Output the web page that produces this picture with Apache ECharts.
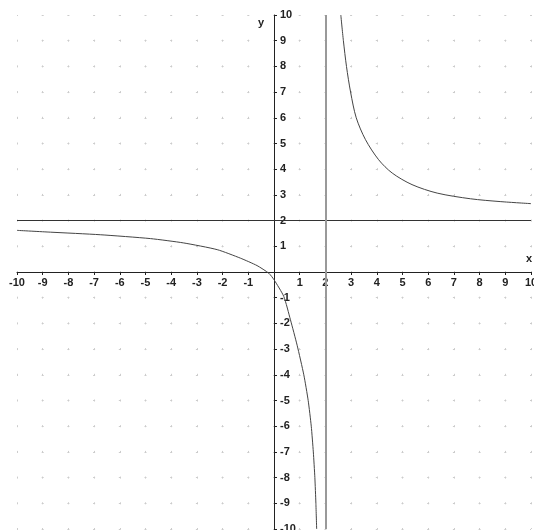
<!DOCTYPE html>
<html>
<head>
<meta charset="utf-8">
<script src="https://cdn.jsdelivr.net/npm/echarts@6/dist/echarts.min.js"></script>
<style>
html,body{margin:0;padding:0;background:#fff;}
#chart{width:534px;height:530px;}
</style>
</head>
<body>
<div id="chart"></div>
<script>
// Values
var axisMin = -10;
var axisMax = 10;
var asymptoteX = 2;
var asymptoteY = 2;
var leftX = [-10, -8.7, -6.76, -4.81, -3.51, -2.21, -1.31, -0.66, -0.2, 0, 0.38, 0.64, 0.9, 1.16, 1.33, 1.45, 1.53, 1.59, 1.63, 1.66];
var leftY = [1.62, 1.55, 1.45, 1.30, 1.13, 0.87, 0.54, 0.25, -0.05, -0.3, -0.95, -1.86, -2.85, -4.0, -5, -6, -7, -8, -9, -10];
var rightX = [2.6, 2.7, 2.82, 2.98, 3.2, 3.56, 4.07, 4.6, 5.37, 6.35, 7.64, 8.8, 10];
var rightY = [10, 9, 8, 7, 6, 5.15, 4.37, 3.85, 3.40, 3.07, 2.85, 2.74, 2.66];

function pairs(xs, ys) { return xs.map(function (x, i) { return [x, ys[i]]; }); }
function fmt(v) { return v === 0 ? '' : String(v); }

var W = 534, H = 530;
var gridL = 17, gridR = 3, gridT = 15, gridB = 1;
// move the axes onto the zero lines (the middle of each axis)
var xShift = (W - gridL - gridR) / 2;
var yShift = (H - gridT - gridB) / 2;

var labelFont = { fontFamily: 'Liberation Sans', fontWeight: 'bold', fontSize: 11, color: '#222' };
var dots = { show: true, lineStyle: { color: '#cccccc', width: 1, type: [2, 23.7], dashOffset: 1 } };

var chart = echarts.init(document.getElementById('chart'), null, { renderer: 'canvas' });
chart.setOption({
  animation: false,
  backgroundColor: '#fff',
  grid: { left: gridL, right: gridR, top: gridT, bottom: gridB, containLabel: false, outerBoundsMode: 'none' },
  xAxis: {
    type: 'value', min: axisMin, max: axisMax, interval: 1, position: 'bottom', offset: -yShift,
    name: 'x', nameLocation: 'end', nameGap: -5,
    nameTextStyle: { fontFamily: 'Liberation Sans', fontWeight: 'bold', fontSize: 11, color: '#222', verticalAlign: 'bottom', padding: [0, 0, 8, 0] },
    axisLine: { onZero: false, lineStyle: { color: '#222', width: 1 } },
    axisTick: { show: true, length: 3, lineStyle: { color: '#222' } },
    axisLabel: Object.assign({ margin: 5, formatter: fmt, showMinLabel: true, showMaxLabel: true, hideOverlap: false }, labelFont),
    splitLine: dots
  },
  yAxis: {
    type: 'value', min: axisMin, max: axisMax, interval: 1, position: 'left', offset: -xShift,
    name: 'y', nameLocation: 'end', nameGap: -8,
    nameTextStyle: { fontFamily: 'Liberation Sans', fontWeight: 'bold', fontSize: 11, color: '#222', align: 'right', verticalAlign: 'middle', padding: [0, 10, 0, 0] },
    axisLine: { onZero: false, lineStyle: { color: '#222', width: 1 } },
    axisTick: { show: true, length: 3, inside: true, lineStyle: { color: '#222' } },
    axisLabel: Object.assign({ inside: true, margin: 6, align: 'left', formatter: fmt, showMinLabel: true, showMaxLabel: true, hideOverlap: false }, labelFont),
    splitLine: dots
  },
  series: [
    {
      type: 'line', data: pairs(leftX, leftY), smooth: 0.2, symbol: 'none', clip: true,
      lineStyle: { color: '#444', width: 1 },
      markLine: {
        symbol: 'none', silent: true, label: { show: false },
        data: [
          { yAxis: asymptoteY, lineStyle: { color: '#333', width: 1, type: 'solid' } },
          { xAxis: asymptoteX, lineStyle: { color: '#999', width: 2, type: 'solid' } }
        ]
      }
    },
    {
      type: 'line', data: pairs(rightX, rightY), smooth: 0.3, symbol: 'none', clip: true,
      lineStyle: { color: '#444', width: 1 }
    }
  ]
});
</script>
</body>
</html>
